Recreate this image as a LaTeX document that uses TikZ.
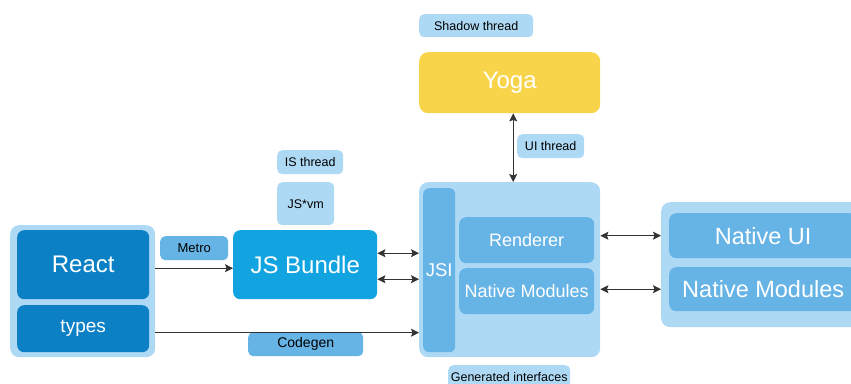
\documentclass[tikz,border=0pt]{standalone}
\usepackage{fontspec}
\setmainfont{Liberation Sans}
\usetikzlibrary{arrows.meta}
\definecolor{lightb}{HTML}{AED9F5}
\definecolor{midb}{HTML}{66B3E6}
\definecolor{darkb}{HTML}{0B80C5}
\definecolor{jsb}{HTML}{12A3E1}
\definecolor{yoga}{HTML}{F8D44A}
\tikzset{
  bx/.style={rounded corners=7pt, inner sep=0pt, anchor=north west, align=center},
  sz/.style 2 args={minimum width=#1pt, minimum height=#2pt},
  lbl/.style={bx, fill=lightb, rounded corners=5pt, text=black, font=\fontsize{12.5}{14}\selectfont},
  mlbl/.style={bx, fill=midb, rounded corners=5pt, text=black},
  tip/.tip={Stealth[length=8pt,width=8pt,inset=1.5pt]},
  arr/.style={draw=black!80, line width=0.8pt, -tip},
  dbl/.style={draw=black!80, line width=0.8pt, tip-tip},
}
\begin{document}
\begin{tikzpicture}[x=1pt,y=-1pt]
\useasboundingbox (0,0) rectangle (851,383);
% left group
\node[bx, fill=lightb, rounded corners=9pt, sz={145}{132}] (outer) at (10,225) {};
\node[bx, fill=darkb, text=white, sz={132}{69}, font=\fontsize{24}{28}\selectfont] (react) at (17,230) {React};
\node[bx, fill=darkb, text=white, sz={132}{47}, font=\fontsize{19}{22}\selectfont] (types) at (17,305) {types};
% metro
\node[mlbl, sz={68}{24}, font=\fontsize{13}{15}\selectfont] (metro) at (160,236) {Metro};
% JS bundle
\node[bx, fill=jsb, text=white, sz={144}{69}, font=\fontsize{24}{28}\selectfont] (jsbundle) at (233,230) {JS Bundle};
% threads
\node[lbl, sz={66}{24}] (isthread) at (277,150) {IS thread};
\node[lbl, sz={57}{43}] (jsvm) at (277,182) {JS*vm};
% codegen
\node[mlbl, sz={115}{24}, font=\fontsize{14}{16}\selectfont] (codegen) at (248,332) {Codegen};
% yoga
\node[lbl, sz={114}{23}] (shadow) at (419,14) {Shadow thread};
\node[bx, fill=yoga, text=white, rounded corners=9pt, sz={181}{61}, font=\fontsize{24}{28}\selectfont] (yoga) at (419,52) {Yoga};
\node[lbl, sz={67}{24}] (uithread) at (517,134) {UI thread};
% big box
\node[bx, fill=lightb, rounded corners=9pt, sz={181}{175}] (big) at (419,182) {};
\node[bx, fill=midb, text=white, rounded corners=6pt, sz={32}{164}, font=\fontsize{18.5}{22}\selectfont] (jsi) at (423,188) {JSI};
\node[bx, fill=midb, text=white, sz={135}{46}, font=\fontsize{18}{21}\selectfont] (renderer) at (459,217) {Renderer};
\node[bx, fill=midb, text=white, sz={135}{46}, font=\fontsize{18}{21}\selectfont] (nmi) at (459,268) {Native Modules};
\node[lbl, sz={122}{24}] (gen) at (448,365) {Generated interfaces};
% right group
\node[bx, fill=lightb, rounded corners=9pt, sz={205}{125}] (rout) at (661,202) {};
\node[bx, fill=midb, text=white, sz={188}{45}, font=\fontsize{23.5}{27}\selectfont] (nui) at (669,213) {Native UI};
\node[bx, fill=midb, text=white, sz={188}{44}, font=\fontsize{23.5}{27}\selectfont] (nmr) at (669,267) {Native Modules};
% connectors
\coordinate (c1) at ([yshift=-3.5pt]react.east);
\draw[arr] (c1 -| outer.east) -- (c1 -| jsbundle.west);
\coordinate (c2) at ([yshift=11.5pt]jsbundle.east);
\coordinate (c3) at ([yshift=-14.5pt]jsbundle.east);
\draw[dbl] (c2) -- (c2 -| big.west);
\draw[dbl] (c3) -- (c3 -| big.west);
\coordinate (c4) at ([yshift=-4pt]types.east);
\draw[arr] (c4 -| outer.east) -- (c4 -| big.west);
\coordinate (c5) at ([xshift=3.5pt]yoga.south);
\draw[dbl] (c5) -- (c5 |- big.north);
\draw[dbl] (big.east |- nui.west) -- (rout.west |- nui.west);
\draw[dbl] (big.east |- nmr.west) -- (rout.west |- nmr.west);
\end{tikzpicture}
\end{document}
